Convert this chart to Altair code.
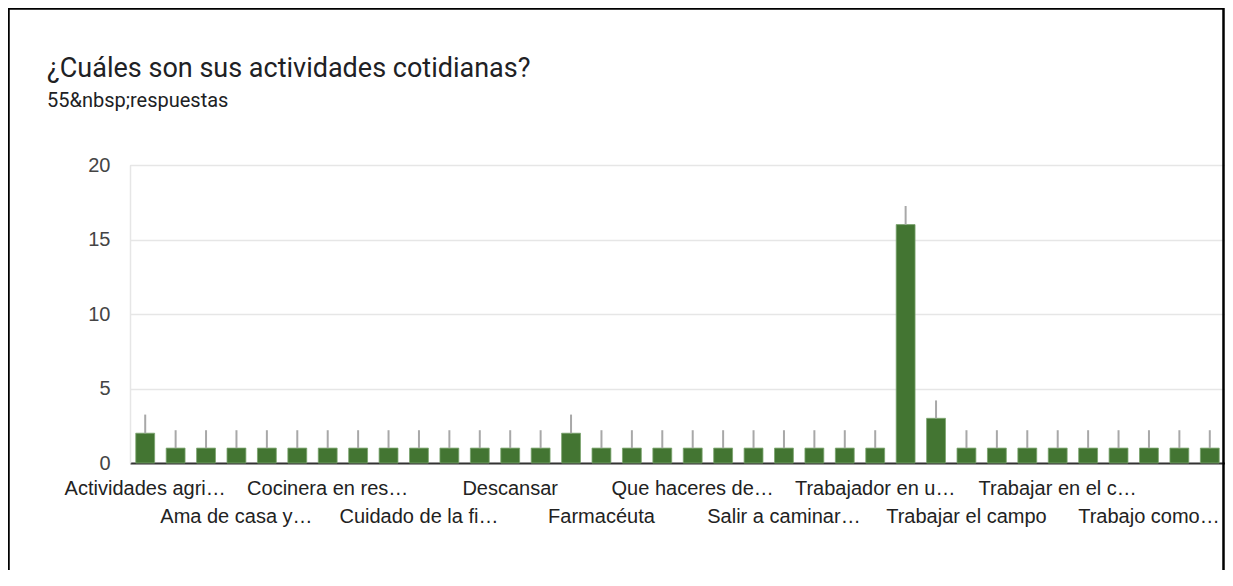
import altair as alt
import pandas as pd

categories = [
    "Actividades agrícolas", "Agricultura", "Ama de casa", "Ama de casa y agricultura",
    "Atender la tienda", "Carpintería", "Cocinera en restaurante", "Comerciante",
    "Cuidar animales", "Cuidado de la finca", "Cultivar", "Deporte",
    "Descansar", "Estudiar", "Estudiar y trabajar", "Farmacéuta",
    "Ganadería", "Labores del hogar", "Que haceres del hogar", "Quehaceres",
    "Recolectar café", "Salir a caminar con la familia", "Servicio doméstico", "Taxista",
    "Trabajador en una empresa", "Trabajar", "Trabajar en el campo y el hogar", "Trabajar el campo",
    "Trabajar en agricultura", "Trabajar en casa", "Trabajar en el cultivo", "Trabajar y estudiar",
    "Trabajo agrícola", "Trabajo como agricultor", "Trabajo en finca", "Vender",
]
values = [2, 1, 1, 1, 1, 1, 1, 1, 1, 1, 1, 1, 1, 1, 2, 1, 1, 1,
          1, 1, 1, 1, 1, 1, 1, 16, 3, 1, 1, 1, 1, 1, 1, 1, 1, 1]
errors = [1.25, 1.2, 1.2, 1.2, 1.2, 1.2, 1.2, 1.2, 1.2, 1.2, 1.2, 1.2, 1.2, 1.2, 1.25, 1.2, 1.2, 1.2,
          1.2, 1.2, 1.2, 1.2, 1.2, 1.2, 1.2, 1.25, 1.2, 1.2, 1.2, 1.2, 1.2, 1.2, 1.2, 1.2, 1.2, 1.2]
tick_labels = ["Actividades agri…", "Ama de casa y…", "Cocinera en res…", "Cuidado de la fi…",
               "Descansar", "Farmacéuta", "Que haceres de…", "Salir a caminar…",
               "Trabajador en u…", "Trabajar el campo", "Trabajar en el c…", "Trabajo como…"]
tick_index = [0, 3, 6, 9, 12, 15, 18, 21, 24, 27, 30, 33]
title_text = "¿Cuáles son sus actividades cotidianas?"
subtitle_text = "55&nbsp;respuestas"

PAD_L, PAD_T = 122, 157
TOTAL_W, TOTAL_H = 1217, 562
W, H = TOTAL_W - PAD_L, 298

df = pd.DataFrame({"cat": categories, "val": values, "err": errors})
df["hi"] = df["val"] + df["err"]
lab = pd.DataFrame({"cat": [categories[i] for i in tick_index], "label": tick_labels,
                    "row": [k % 2 for k in range(len(tick_index))]})

xscale = alt.Scale(domain=categories, paddingInner=0.38, paddingOuter=0.19)
yscale = alt.Scale(domain=[0, 20], nice=False)

xenc = alt.X("cat:N", scale=xscale, sort=None,
             axis=alt.Axis(title=None, labels=False, ticks=False, domain=True,
                           domainColor="#333333", domainWidth=2, grid=False))

bars = alt.Chart(df).mark_bar(color="#437532", stroke="#7aa36d", strokeWidth=0.8).encode(
    x=xenc,
    y=alt.Y("val:Q", scale=yscale, axis=alt.Axis(
        title=None, values=[0, 2.5, 5, 7.5, 10, 12.5, 15, 17.5, 20],
        labelExpr="datum.value % 5 === 0 ? datum.label : ''",
        gridColor={"condition": {"test": "datum.value % 5 === 0", "value": "#e6e6e6"}, "value": "#f1f1f1"},
        gridWidth=1.5, ticks=False, domain=True, domainColor="#e6e6e6", domainWidth=1.5,
        labelFont="Liberation Sans", labelFontSize=20, labelColor="#444444", labelPadding=20)),
)

whiskers = alt.Chart(df).mark_rule(color="#a8a8a8", strokeWidth=2).encode(
    x=alt.X("cat:N", scale=xscale, sort=None),
    y=alt.Y("val:Q", scale=yscale),
    y2="hi:Q",
)

def label_layer(row, yoff):
    return alt.Chart(lab[lab["row"] == row]).mark_text(
        font="Liberation Sans", fontSize=20, color="#222222", align="center", baseline="alphabetic"
    ).encode(
        x=alt.X("cat:N", scale=xscale, sort=None),
        y=alt.value(H + yoff),
        text="label:N",
    )

title_mark = alt.Chart(pd.DataFrame({"t": [title_text]})).mark_text(
    font="Roboto", fontSize=27, color="#202124", align="left", baseline="alphabetic"
).encode(x=alt.value(47 - 130), y=alt.value(77 - 165), text="t:N")
sub_mark = alt.Chart(pd.DataFrame({"t": [subtitle_text]})).mark_text(
    font="Roboto", fontSize=20, color="#202124", align="left", baseline="alphabetic"
).encode(x=alt.value(47 - 130), y=alt.value(107 - 165), text="t:N")

frame = alt.Chart(pd.DataFrame({"a": [0]})).mark_rect(
    fill="transparent", stroke="#000000", strokeWidth=2.5
).encode(x=alt.value(-PAD_L + 0.5), x2=alt.value(W - 1.5), y=alt.value(-PAD_T + 0.5), y2=alt.value(H + 200))

chart = alt.layer(
    frame, bars, whiskers, label_layer(0, 32), label_layer(1, 60), title_mark, sub_mark
).properties(
    width=W, height=H,
    autosize=alt.AutoSizeParams(type="none"),
    padding={"left": PAD_L, "top": PAD_T, "right": 0, "bottom": TOTAL_H - PAD_T - H},
).configure_view(stroke=None).configure(background="white")

chart.save("out.html", embed_options={"renderer": "svg", "actions": False})
